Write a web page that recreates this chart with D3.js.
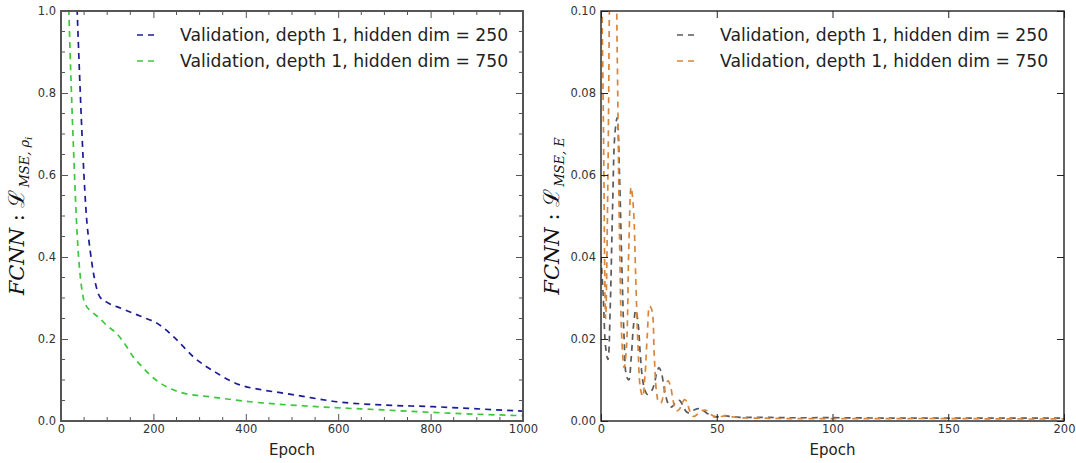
<!DOCTYPE html>
<html>
<head>
<meta charset="utf-8">
<script src="https://cdn.jsdelivr.net/npm/d3@7"></script>
<style>
  body { margin: 0; background: #fff; }
  svg { display: block; }
</style>
</head>
<body>
<svg id="chart" width="1076" height="463"></svg>
<script>
// left panel: density loss
const blueEpochs = [25, 35, 40, 48, 55, 63, 72, 84, 102, 130, 156, 180, 207, 247, 286, 337, 387, 430, 481, 540, 597, 697, 805, 913, 1000];
const blueValues = [1.3, 1.0, 0.85, 0.637, 0.5, 0.417, 0.35, 0.303, 0.288, 0.275, 0.263, 0.252, 0.239, 0.202, 0.157, 0.117, 0.088, 0.077, 0.068, 0.057, 0.047, 0.039, 0.035, 0.029, 0.024];
const greenEpochs = [10, 17, 22, 28, 33, 37, 42, 48, 55, 63, 84, 100, 120, 140, 156, 175, 193, 229, 265, 323, 409, 553, 697, 842, 1000];
const greenValues = [1.3, 1.0, 0.82, 0.637, 0.5, 0.417, 0.35, 0.302, 0.28, 0.27, 0.25, 0.232, 0.214, 0.185, 0.157, 0.133, 0.112, 0.083, 0.068, 0.059, 0.047, 0.035, 0.027, 0.019, 0.013];

// right panel: energy loss
const greyEpochs = [0,1,2,3,4,5,6,7,8,9,10,11,12,13,14,15,16,17,18,19,20,21,22,23,24,25,26,27,28,29,30,31,32,33,34,35,36,37,38,40,42,44,46,48,50,53,56,60,70,80,100,125,150,175,200];
const greyValues = [0.040,0.030,0.018,0.015,0.028,0.052,0.070,0.074,0.060,0.038,0.020,0.011,0.010,0.015,0.023,0.027,0.024,0.016,0.010,0.0075,0.0065,0.007,0.0075,0.009,0.0115,0.013,0.012,0.009,0.006,0.0042,0.0034,0.0036,0.0044,0.005,0.005,0.0042,0.003,0.0022,0.002,0.0026,0.003,0.0026,0.0018,0.0012,0.001,0.0013,0.0011,0.0009,0.0009,0.0008,0.0008,0.0007,0.0007,0.0007,0.0007];
const orangeEpochs = [0,1,2,3,4,5,6,7,8,9,10,11,12,13,14,15,16,17,18,19,20,21,22,23,24,25,26,27,28,29,30,31,32,33,34,35,36,37,38,39,40,42,44,46,48,50,52,54,57,60,70,80,100,125,150,175,200];
const orangeValues = [0.12,0.075,0.025,0.06,0.115,0.13,0.125,0.09,0.045,0.02,0.013,0.018,0.042,0.057,0.052,0.035,0.018,0.008,0.006,0.011,0.021,0.028,0.027,0.016,0.007,0.0045,0.0045,0.0065,0.009,0.0098,0.0085,0.0055,0.003,0.0025,0.003,0.0042,0.0052,0.0048,0.003,0.0016,0.0011,0.0018,0.0026,0.0025,0.0014,0.0008,0.0011,0.0013,0.001,0.0008,0.0007,0.0006,0.0006,0.0006,0.0006,0.0005,0.0005];

const legendLabels = ["Validation, depth 1, hidden dim = 250", "Validation, depth 1, hidden dim = 750"];
const leftXTicks = [0, 200, 400, 600, 800, 1000];
const leftYTicks = [0.0, 0.2, 0.4, 0.6, 0.8, 1.0];
const rightXTicks = [0, 50, 100, 150, 200];
const rightYTicks = [0.00, 0.02, 0.04, 0.06, 0.08, 0.10];

const svg = d3.select("#chart");
const zip = (xs, ys) => xs.map((x, i) => [x, ys[i]]);

function drawPanel(p) {
  const x = d3.scaleLinear().domain(p.xDomain).range([p.left, p.right]);
  const y = d3.scaleLinear().domain(p.yDomain).range([p.bottom, p.top]);
  const g = svg.append("g");

  g.append("clipPath").attr("id", p.id)
    .append("rect")
    .attr("x", p.left).attr("y", p.top)
    .attr("width", p.right - p.left).attr("height", p.bottom - p.top);

  const line = d3.line()
    .x(d => x(d[0])).y(d => y(d[1]))
    .curve(p.curve);

  p.series.forEach(s => {
    g.append("path")
      .datum(zip(s.xs, s.ys))
      .attr("clip-path", `url(#${p.id})`)
      .attr("fill", "none")
      .attr("stroke", s.color)
      .attr("stroke-width", 1.7)
      .attr("stroke-dasharray", "6,5")
      .attr("d", line);
  });

  const tickStyle = sel => sel
    .call(s => s.selectAll("text")
      .attr("font-family", "DejaVu Sans")
      .attr("font-size", 11.5)
      .attr("fill", "#333"))
    .call(s => s.selectAll("line").attr("stroke", p.frame).attr("stroke-width", 1));

  // bottom
  g.append("g")
    .attr("transform", `translate(0,${p.bottom})`)
    .call(d3.axisBottom(x).tickValues(p.xTicks).tickSize(-7).tickPadding(4).tickFormat(d3.format("d")))
    .call(s => s.select(".domain").remove())
    .call(tickStyle);
  // top
  g.append("g")
    .attr("transform", `translate(0,${p.top})`)
    .call(d3.axisTop(x).tickValues(p.xTicks).tickSize(-7).tickFormat(""))
    .call(s => s.select(".domain").remove())
    .call(tickStyle);
  // left
  g.append("g")
    .attr("transform", `translate(${p.left},0)`)
    .call(d3.axisLeft(y).tickValues(p.yTicks).tickSize(-7).tickPadding(5).tickFormat(d3.format(p.yFormat)))
    .call(s => s.select(".domain").remove())
    .call(tickStyle);
  // right
  g.append("g")
    .attr("transform", `translate(${p.right},0)`)
    .call(d3.axisRight(y).tickValues(p.yTicks).tickSize(-7).tickFormat(""))
    .call(s => s.select(".domain").remove())
    .call(tickStyle);

  if (p.minorX) {
    const mx = d3.range(p.xDomain[0], p.xDomain[1] + 1, p.minorX).filter(v => !p.xTicks.includes(v));
    const my = d3.range(0, 41).map(i => i * p.minorY).filter(v => v <= p.yDomain[1] + 1e-9)
      .filter(v => !p.yTicks.some(t => Math.abs(t - v) < 1e-9));
    [[p.bottom, -4], [p.top, 4]].forEach(([yy, dy]) => {
      g.selectAll(null).data(mx).join("line")
        .attr("x1", d => x(d)).attr("x2", d => x(d))
        .attr("y1", yy).attr("y2", yy + dy)
        .attr("stroke", p.frame);
    });
    [[p.left, 4], [p.right, -4]].forEach(([xx, dx]) => {
      g.selectAll(null).data(my).join("line")
        .attr("y1", d => y(d)).attr("y2", d => y(d))
        .attr("x1", xx).attr("x2", xx + dx)
        .attr("stroke", p.frame);
    });
  }

  g.append("rect")
    .attr("x", p.left).attr("y", p.top)
    .attr("width", p.right - p.left).attr("height", p.bottom - p.top)
    .attr("fill", "none").attr("stroke", p.frame).attr("stroke-width", p.frameWidth);

  g.append("text")
    .attr("x", (p.left + p.right) / 2).attr("y", 455)
    .attr("text-anchor", "middle")
    .attr("font-family", "DejaVu Sans").attr("font-size", 15).attr("fill", "#222")
    .text("Epoch");

  // y label (math text)
  const yl = g.append("text")
    .attr("transform", `translate(${p.labelX},${(p.top + p.bottom) / 2}) rotate(-90)`)
    .attr("text-anchor", "middle")
    .attr("font-family", "DejaVu Serif").attr("fill", "#111");
  yl.append("tspan").attr("font-style", "italic").attr("font-size", 21).text("FCNN");
  yl.append("tspan").attr("font-size", 21).text(" : ");
  yl.append("tspan").attr("font-size", 22).text("ℒ");
  yl.append("tspan").attr("font-style", "italic").attr("font-size", 13).attr("dx", 2).attr("dy", 5).text(p.sub);
  if (p.subsub) {
    yl.append("tspan").attr("font-style", "italic").attr("font-size", 10).attr("dy", 3).text(p.subsub);
  }

  // legend
  p.series.forEach((s, i) => {
    const ly = 35 + i * 26;
    g.append("line")
      .attr("x1", p.legendX).attr("x2", p.legendX + 22)
      .attr("y1", ly).attr("y2", ly)
      .attr("stroke", s.color).attr("stroke-width", 1.7)
      .attr("stroke-dasharray", "6,5");
    g.append("text")
      .attr("x", p.legendX + 43).attr("y", ly + 6)
      .attr("font-family", "DejaVu Sans").attr("font-size", 17.2).attr("fill", "#222")
      .text(legendLabels[i]);
  });
}

drawPanel({
  id: "clipL",
  left: 61, right: 523, top: 11, bottom: 421,
  xDomain: [0, 1000], yDomain: [0, 1],
  xTicks: leftXTicks, yTicks: leftYTicks, yFormat: ".1f",
  minorX: 50, minorY: 0.05,
  frame: "#555", frameWidth: 2,
  curve: d3.curveMonotoneX,
  labelX: 24, sub: "MSE, ρ", subsub: "i",
  legendX: 137,
  series: [
    { xs: blueEpochs, ys: blueValues, color: "#1c1c96" },
    { xs: greenEpochs, ys: greenValues, color: "#3cc83c" }
  ]
});

drawPanel({
  id: "clipR",
  left: 601, right: 1064, top: 11, bottom: 421,
  xDomain: [0, 200], yDomain: [0, 0.1],
  xTicks: rightXTicks, yTicks: rightYTicks, yFormat: ".2f",
  minorX: null,
  frame: "#222", frameWidth: 1.4,
  curve: d3.curveCatmullRom.alpha(0.5),
  labelX: 559, sub: "MSE, E", subsub: null,
  legendX: 677,
  series: [
    { xs: greyEpochs, ys: greyValues, color: "#5a5a5a" },
    { xs: orangeEpochs, ys: orangeValues, color: "#d9853b" }
  ]
});
</script>
</body>
</html>
